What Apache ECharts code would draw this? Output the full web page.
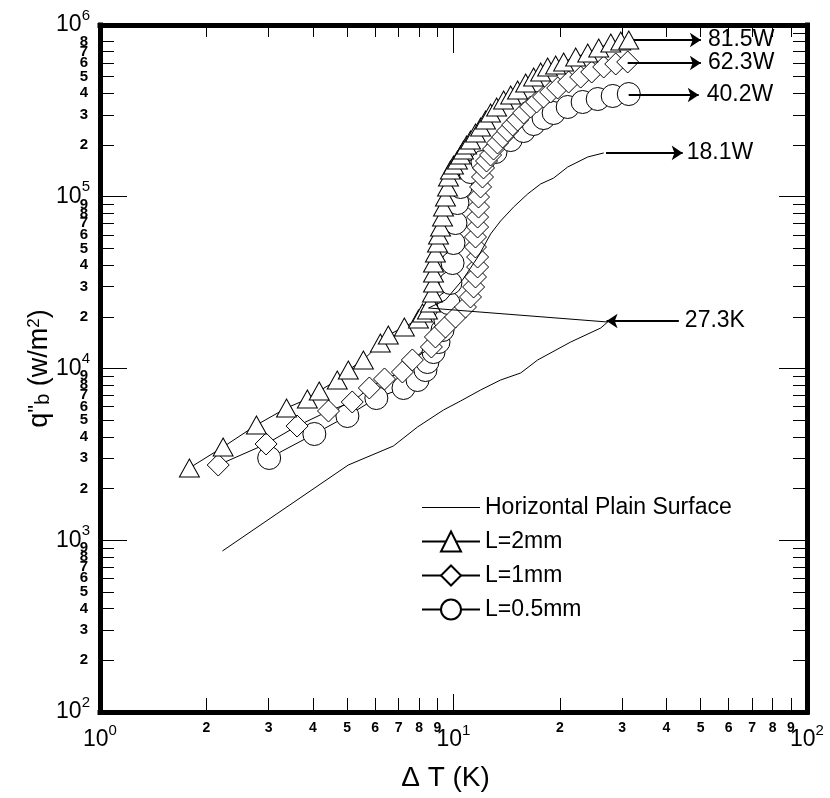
<!DOCTYPE html>
<html>
<head>
<meta charset="utf-8">
<title>q''b vs dT</title>
<style>
  html, body { margin: 0; padding: 0; background: #fff; }
  #chart { width: 830px; height: 798px; }
</style>
</head>
<body>
<div id="chart"></div>
<script src="https://cdn.jsdelivr.net/npm/echarts@6/dist/echarts.min.js"></script>
<script>
// [dT (K), q''b (W/m2)]
var plainSurface = [
  [2.22, 866], [5.04, 2742], [6.76, 3538], [7.91, 4565], [9.37, 5733], [10.47, 6468],
  [11.93, 7495], [13.59, 8570], [15.49, 9415], [17.3, 11210], [21.45, 14260], [26.09, 17210],
  [27.3, 18650], [8.5, 22500], [9.49, 25050], [10.6, 32730], [11.77, 45190], [12.73, 60670],
  [13.59, 72260], [14.79, 87100], [16.21, 103800], [17.64, 118700], [19.2, 128500],
  [21.04, 149000], [23.97, 170400], [26.6, 179900]
];

var fin2mm = [
  [1.79, 2634], [2.23, 3491], [2.77, 4688], [3.37, 5888], [3.86, 6644], [4.17, 7396],
  [4.69, 8570], [5.04, 9795], [5.56, 11210], [6.21, 14080], [6.54, 15670], [7.26, 17450],
  [7.96, 19410], [8.17, 21040], [8.44, 21910], [8.61, 24040], [8.72, 27520], [8.78, 31480],
  [8.78, 35980], [8.78, 41130], [8.89, 47030], [9.01, 53800], [9.07, 59840], [9.19, 66640],
  [9.31, 76190], [9.37, 87100], [9.49, 99650], [9.62, 114000], [9.68, 130300], [9.8, 143100],
  [10.0, 153000], [10.26, 163600], [10.47, 175000], [10.67, 187100], [10.89, 200100],
  [11.17, 213900], [11.54, 235000], [11.93, 254500], [12.32, 280000], [12.73, 307400],
  [13.24, 333100], [13.86, 365800], [14.51, 391300], [15.18, 418300], [16.0, 459600],
  [16.85, 497500], [17.64, 532500], [18.46, 569500], [19.45, 584800], [20.49, 609000],
  [22.16, 651300], [23.97, 687100], [25.75, 734600], [27.86, 785400], [29.72, 807500],
  [31.32, 817800]
];

var fin1mm = [
  [2.16, 2742], [2.95, 3635], [3.61, 4624], [4.43, 5655], [5.17, 6383], [5.78, 7700],
  [6.38, 8690], [7.17, 9540], [7.65, 11210], [8.66, 13340], [8.89, 15260], [9.49, 17450],
  [10.13, 19950], [10.81, 22800], [11.17, 26090], [11.4, 29820], [11.54, 34110], [11.7, 38990],
  [11.7, 44580], [11.54, 50970], [11.54, 58290], [11.7, 66640], [11.7, 76190], [11.77, 87100],
  [11.77, 99650], [11.93, 114000], [12.08, 130300], [12.16, 147100], [12.4, 161500],
  [12.73, 175000], [12.98, 189600], [13.32, 205600], [13.77, 222800], [14.22, 241500],
  [14.7, 261800], [15.18, 280000], [15.79, 307400], [16.52, 333100], [17.18, 356200],
  [17.98, 381000], [18.83, 407400], [19.71, 429700], [21.17, 465700], [22.9, 497500],
  [24.6, 532500], [26.6, 569500], [28.77, 592900], [31.1, 609000]
];

var fin05mm = [
  [3.01, 3013], [4.04, 4155], [5.01, 5290], [6.05, 6730], [7.22, 7700], [7.91, 8570],
  [8.33, 9795], [8.44, 10910], [8.78, 12470], [9.07, 14260], [9.31, 16740], [9.49, 19140],
  [9.68, 24040], [9.8, 31480], [9.94, 41130], [10.0, 53800], [10.13, 70310], [10.26, 91950],
  [10.47, 114000], [11.17, 139300], [12.08, 159400], [13.15, 182200], [14.51, 213900],
  [15.79, 241500], [16.85, 265200], [17.98, 287300], [19.2, 307400], [21.04, 333100],
  [23.19, 356200], [25.58, 370700], [28.21, 386100], [31.32, 396300]
];

// arrow annotations: from -> arrow tip, in data units
var arrows = [
  { text: '81.5W', from: [31.3, 817800], to: [50.1, 817800], at: 'end', gap: 7 },
  { text: '62.3W', from: [31.1, 600600], to: [50.1, 600600], at: 'end', gap: 7 },
  { text: '40.2W', from: [31.3, 391300], to: [49.4, 391300], at: 'end', gap: 8 },
  { text: '18.1W', from: [27.0, 179900], to: [44.5, 179900], at: 'end', gap: 4 },
  { text: '27.3K', from: [43.4, 18910], to: [27.1, 18910], at: 'start', gap: 6 }
];

var minorDigits = [2, 3, 4, 5, 6, 7, 8, 9];
var xDecades = [0, 1];
var yDecades = [2, 3, 4, 5];

var font = '"Liberation Sans", Arial, sans-serif';

function minorPos(decades) {
  var out = [];
  decades.forEach(function (d) {
    minorDigits.forEach(function (m) { out.push(d + Math.log10(m)); });
  });
  return out;
}
var xMinor = minorPos(xDecades);
var yMinor = minorPos(yDecades);

function majorLabel(v) {
  return '{b|10}{s|' + Math.round(Math.log10(v)) + '}';
}
function minorLabel(v) {
  return String(Math.round(Math.pow(10, v - Math.floor(v + 1e-9))));
}

var richMajor = {
  b: { fontSize: 23, fontFamily: font, color: '#000', lineHeight: 34, verticalAlign: 'middle' },
  s: { fontSize: 15, fontFamily: font, color: '#000', verticalAlign: 'top' }
};
var frame = { show: true, onZero: false, lineStyle: { color: '#000', width: 5, cap: 'square' } };
var tickStyle = { color: '#000', width: 1 };

function majorAxis(pos, min, max, len, labels) {
  return {
    type: 'log', logBase: 10, min: min, max: max, position: pos,
    axisLine: frame,
    axisTick: { show: true, inside: true, length: len, lineStyle: tickStyle },
    axisLabel: labels ? { show: true, formatter: majorLabel, rich: richMajor, margin: labels } : { show: false },
    splitLine: { show: false }
  };
}
function minorAxis(pos, min, max, vals, len, label) {
  return {
    type: 'value', min: min, max: max, position: pos,
    axisLine: { show: false, onZero: false },
    axisTick: { show: true, inside: true, length: len, customValues: vals, lineStyle: tickStyle },
    axisLabel: label ? {
      show: true, customValues: vals, formatter: minorLabel, margin: label.margin,
      fontSize: label.size, fontWeight: 'bold', fontFamily: font, color: '#000'
    } : { show: false },
    splitLine: { show: false }
  };
}

var xMain = majorAxis('bottom', 1, 100, 18, 11);
xMain.name = 'Δ T (K)';
xMain.nameLocation = 'middle';
xMain.nameGap = 52;
xMain.nameMoveOverlap = false;
xMain.nameTextStyle = { fontSize: 28, fontFamily: font, color: '#000', padding: [0, 16, 0, 0] };

var yMain = majorAxis('left', 100, 1000000, 27, 10);
yMain.name = 'q{p|"}{sub|b} (w/m{sup|2})';
yMain.nameLocation = 'middle';
yMain.nameGap = 47;
yMain.nameMoveOverlap = false;
yMain.nameTextStyle = {
  fontSize: 27, fontFamily: font, color: '#000',
  rich: {
    p: { fontSize: 22, fontFamily: font, color: '#000', verticalAlign: 'top' },
    sub: { fontSize: 20, fontFamily: font, color: '#000', verticalAlign: 'bottom' },
    sup: { fontSize: 17, fontFamily: font, color: '#000', verticalAlign: 'top' }
  }
};

function fin(name, data, symbol, size, z) {
  return {
    name: name, type: 'line', data: data, z: z,
    symbol: symbol, symbolSize: size, showSymbol: true,
    lineStyle: { color: '#000', width: 1 },
    itemStyle: { color: '#fff', borderColor: '#000', borderWidth: 1 },
    emphasis: { disabled: true }, silent: true
  };
}

var chart = echarts.init(document.getElementById('chart'));
chart.setOption({
  animation: false,
  backgroundColor: '#fff',
  grid: { left: 100, right: 23, top: 25, bottom: 86 },
  legend: {
    orient: 'vertical', left: 416, top: 491,
    itemWidth: 58, itemHeight: 25, itemGap: 11,
    selectedMode: false,
    textStyle: { fontSize: 23, fontFamily: font, color: '#000' },
    data: [
      { name: 'Horizontal Plain Surface', icon: 'path://M0,0h58v1h-58z' },
      'L=2mm', 'L=1mm', 'L=0.5mm'
    ]
  },
  xAxis: [
    xMain,
    minorAxis('bottom', 0, 2, xMinor, 14, { size: 14, margin: 9 }),
    majorAxis('top', 1, 100, 28, 0),
    minorAxis('top', 0, 2, xMinor, 12, null)
  ],
  yAxis: [
    yMain,
    minorAxis('left', 2, 6, yMinor, 14, { size: 15, margin: 12 }),
    majorAxis('right', 100, 1000000, 28, 0),
    minorAxis('right', 2, 6, yMinor, 14, null)
  ],
  series: [
    fin('L=0.5mm', fin05mm, 'circle', 23, 3),
    fin('L=1mm', fin1mm, 'diamond', 22, 4),
    fin('L=2mm', fin2mm, 'triangle', [20, 18], 5),
    {
      name: 'Horizontal Plain Surface', type: 'line', data: plainSurface, z: 6,
      symbol: 'none', lineStyle: { color: '#000', width: 1 },
      itemStyle: { color: '#000' }, silent: true,
      markLine: {
        silent: true, animation: false,
        symbol: ['none', 'arrow'], symbolSize: 11,
        lineStyle: { color: '#000', width: 2, type: 'solid' },
        label: { show: true, formatter: '{b}', fontSize: 23, fontFamily: font, color: '#000' },
        emphasis: { disabled: true },
        data: arrows.map(function (a) {
          return [
            { name: a.text, coord: a.from, label: { position: a.at, distance: a.gap } },
            { coord: a.to }
          ];
        })
      }
    }
  ]
});
</script>
</body>
</html>
